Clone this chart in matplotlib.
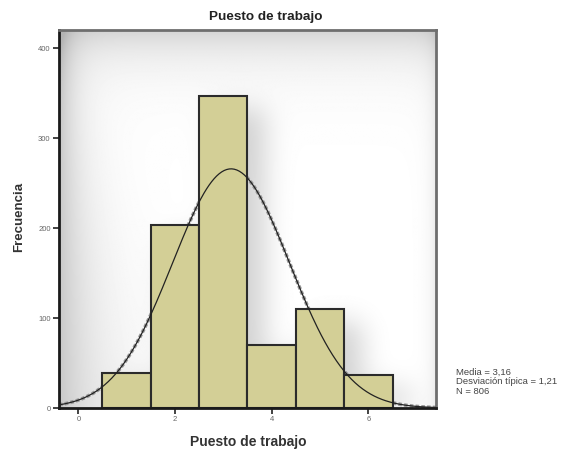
import numpy as np
import matplotlib
matplotlib.use("Agg")
import matplotlib.pyplot as plt

plt.rcParams['font.family'] = ['Liberation Sans', 'DejaVu Sans']

# datos del histograma
puesto = [1, 2, 3, 4, 5, 6]
frecuencia = [39, 203, 347, 70, 110, 37]
media = 3.16
desv = 1.21
n = 806

fig = plt.figure(figsize=(5.71, 4.59), dpi=100)
ax = fig.add_axes([0.1033, 0.1111, 0.6603, 0.8235])
xmin, xmax, ymin, ymax = -0.4, 7.4, 0, 420

# fondo con degradado y sombra de las barras
H, W = 380, 380
gx = np.linspace(xmin, xmax, W)
gy = np.linspace(ymax, ymin, H)
X, Y = np.meshgrid(gx, gy)
mask = np.zeros((H, W))
for p, f in zip(puesto, frecuencia):
    mask[(X >= p - 0.5 + 0.35) & (X <= p + 0.5 + 0.35) & (Y <= f - 15)] = 1.0
k = np.exp(-0.5 * (np.arange(-40, 41) / 14.0) ** 2)
k /= k.sum()
sh = np.apply_along_axis(lambda r: np.convolve(r, k, mode='same'), 1, mask)
sh = np.apply_along_axis(lambda c: np.convolve(c, k, mode='same'), 0, sh)
colx = (np.arange(W) / W)
rowy = (np.arange(H) / H)
left = np.exp(-colx[None, :] / (0.03 + 0.09 * rowy[:, None]))
top = np.exp(-rowy[:, None] / 0.08) * np.ones((1, W))
right = np.exp(-(1 - colx[None, :]) / 0.02) * np.ones((H, 1))
dark = np.clip(0.22 * left + 0.17 * top + 0.1 * right + 0.18 * sh, 0, 0.3)
img = 1 - dark
ax.imshow(img, cmap='gray', vmin=0, vmax=1, extent=[xmin, xmax, ymin, ymax],
          aspect='auto', zorder=0, interpolation='bilinear')

xs = np.linspace(xmin, xmax, 300)
curva = n / (desv * np.sqrt(2 * np.pi)) * np.exp(-0.5 * ((xs - media) / desv) ** 2)
ax.plot(xs, curva, color='#999999', lw=2.6, ls=(0, (1, 0.6)), zorder=1)

ax.bar(puesto, frecuencia, width=1.0, color='#d3cf96', edgecolor='#2b2b2b',
       linewidth=1.5, zorder=2)
ax.plot(xs, curva, color='#222222', lw=0.9, zorder=3)

ax.set_xlim(xmin, xmax)
ax.set_ylim(ymin, ymax)
ax.set_xticks([0, 2, 4, 6])
ax.set_yticks([0, 100, 200, 300, 400])
ax.tick_params(axis='both', labelsize=5.5, labelcolor='#666666', length=4,
               width=1.2, color='#222222', pad=2)
for s in ['left', 'bottom']:
    ax.spines[s].set_linewidth(2)
    ax.spines[s].set_color('#1a1a1a')
for s in ['top', 'right']:
    ax.spines[s].set_linewidth(2)
    ax.spines[s].set_color('#6e6e6e')

fig.text(266 / 571, 1 - 17 / 459, "Puesto de trabajo", ha='center', va='center',
         fontsize=9.7, fontweight='bold', color='#222222')
fig.text(248 / 571, 1 - 442 / 459, "Puesto de trabajo", ha='center', va='center',
         fontsize=10, fontweight='bold', color='#333333')
fig.text(19 / 571, 1 - 217 / 459, "Frecuencia", ha='center', va='center',
         rotation=90, fontsize=9.5, fontweight='bold', color='#333333')
fig.text(456 / 571, 1 - 382 / 459,
         "Media = 3,16\nDesviación típica = 1,21\nN = 806",
         ha='left', va='center', fontsize=6.8, color='#444444', linespacing=1.05)

fig.savefig("out.png", dpi=100)
